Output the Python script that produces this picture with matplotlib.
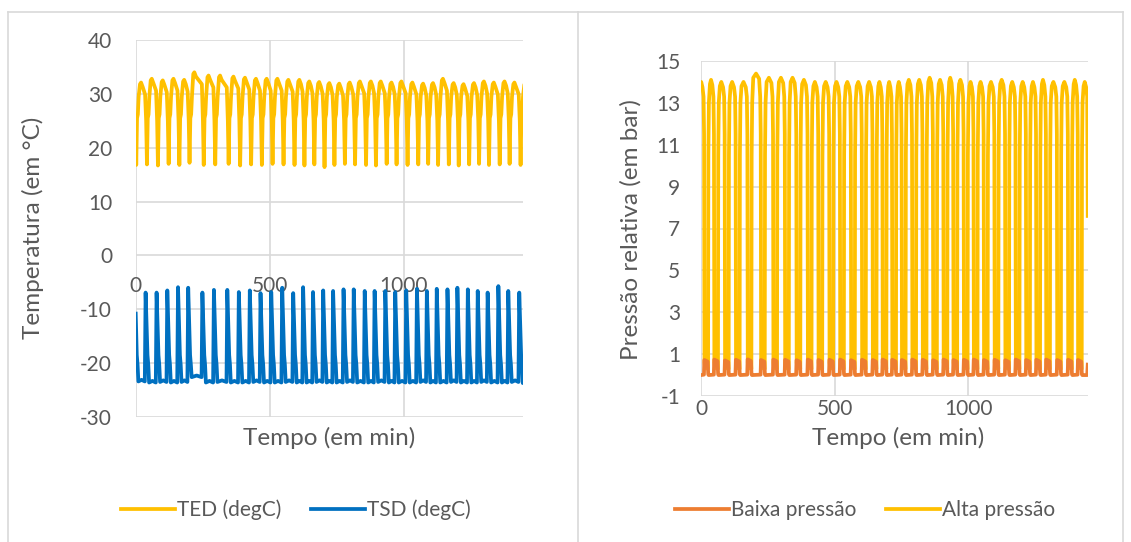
import matplotlib.pyplot as plt
from matplotlib.lines import Line2D

# ---------------- dados ----------------
# painel esquerdo: instante de cada pico de TSD (min) e extremos por ciclo
t_pico = [-3, 37, 78, 118, 158, 196, 249, 292, 342, 385, 426, 466, 506, 547, 588,
          625, 662, 700, 737, 776, 814, 855, 892, 932, 969, 1010, 1050, 1087, 1124,
          1164, 1201, 1240, 1277, 1314, 1354, 1391, 1432]
tsd_max = [-6.5, -6.9, -6.9, -6.5, -5.9, -6.0, -6.9, -6.4, -6.4, -6.8,
           -6.5, -7.0, -6.8, -6.0, -7.0, -5.9, -6.8, -6.5, -6.6, -6.3,
           -6.3, -6.6, -6.6, -6.6, -6.8, -6.5, -6.2, -6.6, -6.2, -6.3,
           -6.0, -6.3, -6.6, -6.9, -5.7, -6.6, -6.9]
tsd_min = [-23.4, -23.6, -23.5, -23.6, -23.5, -22.6, -23.6, -23.5, -23.6, -23.6,
           -23.5, -23.6, -23.6, -23.5, -23.6, -23.6, -23.5, -23.6, -23.6, -23.5,
           -23.6, -23.6, -23.5, -23.6, -23.6, -23.6, -23.5, -23.6, -23.6, -23.5,
           -23.6, -23.6, -23.5, -23.6, -23.6, -23.5, -23.7]
tsd_inicio = -10.8
ted_max = [32.1, 32.8, 32.5, 32.8, 32.6, 34.0, 33.4, 33.4, 33.2, 33.0,
           32.8, 32.8, 32.8, 32.6, 32.6, 32.3, 32.2, 32.0, 31.9, 32.1,
           32.3, 32.3, 32.3, 32.1, 32.3, 32.1, 31.9, 32.0, 32.8, 32.0,
           31.8, 32.0, 32.3, 32.1, 32.3, 32.1, 32.0]
ted_min = [16.8, 16.9, 16.7, 17.0, 16.8, 17.2, 16.8, 16.9, 17.0, 16.7,
           16.9, 16.8, 17.0, 16.9, 16.8, 16.7, 16.9, 16.4, 16.8, 17.0,
           16.9, 16.8, 16.7, 17.0, 16.9, 16.8, 16.9, 17.0, 16.8, 16.9,
           16.7, 16.9, 17.0, 16.8, 16.9, 17.0, 16.8]
ted_inicio = 24.0
t_fim_esq = 1446

# painel direito: centro de cada paragem do compressor (min) e extremos
t_paragem = [19, 56, 96, 137, 181, 231, 277, 321, 364, 406, 446, 487, 527, 568,
             609, 649, 686, 722, 758, 797, 836, 875, 914, 951, 990, 1027, 1065,
             1105, 1145, 1184, 1223, 1261, 1298, 1339, 1380, 1417]
alta_max = [14.0, 14.1, 14.0, 14.0, 14.0, 14.4, 14.2, 14.2, 14.2, 14.1,
            14.0, 14.0, 14.0, 14.0, 14.0, 14.0, 14.0, 14.0, 14.0, 14.1,
            14.1, 14.2, 14.1, 14.2, 14.1, 14.0, 14.0, 14.0, 14.1, 14.0,
            14.0, 14.0, 14.1, 14.0, 14.0, 14.1, 14.0]
baixa_max = [0.72, 0.74, 0.70, 0.73, 0.75, 0.72, 0.74, 0.73, 0.71, 0.74,
             0.72, 0.73, 0.74, 0.71, 0.73, 0.72, 0.74, 0.73, 0.72, 0.74,
             0.73, 0.71, 0.74, 0.72, 0.73, 0.74, 0.72, 0.73, 0.71, 0.74,
             0.72, 0.73, 0.74, 0.72, 0.73, 0.72]
alta_inicio = 13.9
t_fim = 1447
alta_fim = 7.6
baixa_fim = 0.5

cinza = '#595959'
grelha = '#D9D9D9'
amarelo = '#FFC000'
azul = '#0070C0'
laranja = '#ED7D31'

plt.rcParams['font.family'] = ['Lato', 'DejaVu Sans']
plt.rcParams['axes.unicode_minus'] = False


def desde_zero(xs, ys, y0):
    # descarta os vertices antes de t = 0 e comeca no valor lido em t = 0
    pares = [(x, y) for x, y in zip(xs, ys) if x > 0]
    return [0] + [p[0] for p in pares], [y0] + [p[1] for p in pares]


# ---------------- curvas ----------------
# TSD
x_tsd, y_tsd = [], []
for i, tp in enumerate(t_pico):
    nxt = t_pico[i + 1] if i + 1 < len(t_pico) else t_fim_esq + 10
    lo_ant = tsd_min[i - 1] if i > 0 else -23.5
    lo = tsd_min[i]
    x_tsd += [tp - 3, tp, tp + 7, tp + 10, tp + 13, (tp + 13 + nxt - 3) / 2]
    y_tsd += [lo_ant, tsd_max[i], -18.5, -20.3, lo, lo + 0.3]
x_tsd, y_tsd = desde_zero(x_tsd, y_tsd, tsd_inicio)

# TED
x_ted, y_ted = [], []
for i, tp in enumerate(t_pico):
    tb = tp + 5
    tbn = t_pico[i + 1] + 5 if i + 1 < len(t_pico) else t_fim_esq + 40
    pk = ted_max[i]
    x_ted += [tb, tb + 3, tb + 6, tb + 9, tb + 14, tb + 18, tb + 24, tbn - 7, tbn - 3]
    y_ted += [ted_min[i], 25.5, 26.2, 29.5, pk - 0.3, pk, pk - 0.8, pk - 2.2, 25.0]
x_ted, y_ted = desde_zero(x_ted, y_ted, ted_inicio)

# Alta pressao
meio = 7.5
inicios = [-10] + [c + meio for c in t_paragem]
fins = [c - meio for c in t_paragem] + [t_fim]
x_alta, y_alta = [], []
for k, (a, b) in enumerate(zip(inicios, fins)):
    pk = alta_max[k]
    m = (a + b) / 2
    x_alta += [a, a + 1, a + 3, a + 7, m, b - 6, b - 2]
    y_alta += [0.3, 10.5, 13.0, pk - 0.2, pk, pk - 0.25, 13.3]
    if k < len(t_paragem):
        x_alta += [b, b + 1.5, b + 4]
        y_alta += [11.5, 0.6, 0.35]
    else:
        x_alta += [b]
        y_alta += [alta_fim]
x_alta, y_alta = desde_zero(x_alta, y_alta, alta_inicio)

# Baixa pressao
x_baixa, y_baixa = [0], [0.0]
for j, c in enumerate(t_paragem):
    b = c - meio
    a = c + meio
    x_baixa += [b - 0.5, b + 1, a - 1.5, a + 0.5, a + 2]
    y_baixa += [0.02, baixa_max[j], baixa_max[j] - 0.08, 0.05, 0.0]
x_baixa += [t_fim - 2, t_fim]
y_baixa += [0.0, baixa_fim]

# ---------------- figura ----------------
fig = plt.figure(figsize=(11.31, 5.42), dpi=100)

# molduras dos dois graficos
W, H = 1131, 542
for xs, ys in [([8, 8], [12, 542]), ([8, 578], [12, 12]), ([578, 578], [12, 542]),
               ([578, 1123], [12, 12]), ([1123, 1123], [12, 542])]:
    fig.add_artist(Line2D([x / W for x in xs], [1 - y / H for y in ys],
                          color=grelha, lw=1.2))

ax1 = fig.add_axes([135.7 / W, 1 - 417 / H, 387.3 / W, 377 / H])
ax2 = fig.add_axes([701 / W, 1 - 396 / H, 387 / W, 335 / H])

lw = 2.7
l_ted, = ax1.plot(x_ted, y_ted, color=amarelo, lw=lw, label='TED (degC)')
l_tsd, = ax1.plot(x_tsd, y_tsd, color=azul, lw=lw, label='TSD (degC)')
l_alta, = ax2.plot(x_alta, y_alta, color=amarelo, lw=lw, label='Alta pressão', zorder=2)
l_baixa, = ax2.plot(x_baixa, y_baixa, color=laranja, lw=lw, label='Baixa pressão', zorder=3)

ax1.set_xlim(0, t_fim_esq)
ax1.set_ylim(-30, 40)
ax1.set_yticks(range(-30, 41, 10))
ax1.set_xticks([0, 500, 1000])
ax1.spines['bottom'].set_position(('data', 0))
ax1.tick_params(axis='x', pad=15)
ax1.tick_params(axis='y', pad=17)

ax2.set_xlim(0, t_fim + 1)
ax2.set_ylim(-1, 15)
ax2.set_yticks(range(-1, 16, 2))
ax2.set_xticks([0, 500, 1000])
ax2.tick_params(axis='x', pad=2)
ax2.tick_params(axis='y', pad=15)

for ax in (ax1, ax2):
    for s in ax.spines.values():
        s.set_visible(False)
    ax.grid(True, color=grelha, lw=1.2)
    ax.set_axisbelow(True)
    ax.tick_params(length=0, labelsize=15, labelcolor=cinza)

ax1.text(0.499, -0.056, 'Tempo (em min)', transform=ax1.transAxes, ha='center',
         va='center', fontsize=17.5, color=cinza)
ax1.text(-0.265, 0.501, 'Temperatura (em °C)', transform=ax1.transAxes, ha='center',
         va='center', rotation=90, fontsize=17.5, color=cinza)
ax2.text(0.509, -0.125, 'Tempo (em min)', transform=ax2.transAxes, ha='center',
         va='center', fontsize=17.5, color=cinza)
ax2.text(-0.181, 0.496, 'Pressão relativa (em bar)', transform=ax2.transAxes,
         ha='center', va='center', rotation=90, fontsize=17.5, color=cinza)

leg_kw = dict(loc='center', ncol=2, frameon=False, fontsize=15, handlelength=2.6,
              handletextpad=0.1, columnspacing=1.4, labelcolor=cinza)
fig.legend(handles=[l_ted, l_tsd], bbox_to_anchor=(296 / W, 1 - 510 / H), **leg_kw)
fig.legend(handles=[l_baixa, l_alta], bbox_to_anchor=(865 / W, 1 - 510 / H), **leg_kw)

fig.savefig('out.png', dpi=100)
